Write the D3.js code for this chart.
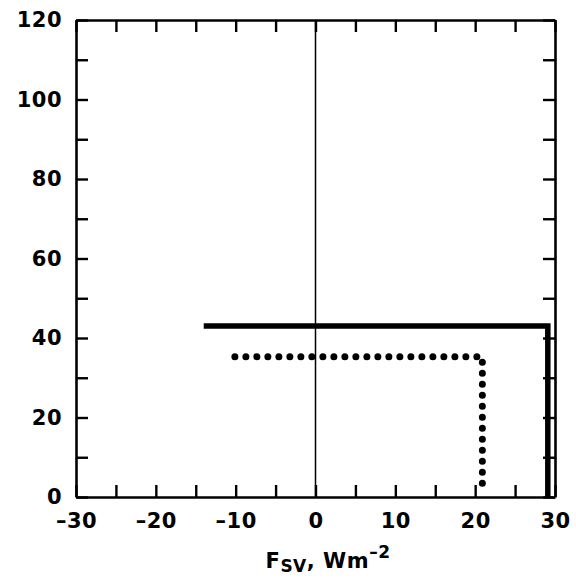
<!DOCTYPE html>
<html>
<head>
<meta charset="utf-8">
<script src="https://cdn.jsdelivr.net/npm/d3@7"></script>
<style>
  html, body { margin: 0; padding: 0; background: #fff; }
  svg text { font-family: "DejaVu Sans", "Liberation Sans", Arial, sans-serif; font-weight: bold; fill: #000; }
</style>
</head>
<body>
<svg id="chart" width="576" height="588"></svg>
<script>
// Axis settings
const xDomain = [-30, 30];
const yDomain = [0, 120];
const xMinorTicks = [-30, -25, -20, -15, -10, -5, 0, 5, 10, 15, 20, 25, 30];
const xLabelTicks = [-30, -20, -10, 0, 10, 20, 30];
const yMinorTicks = [0, 10, 20, 30, 40, 50, 60, 70, 80, 90, 100, 110, 120];
const yLabelTicks = [0, 20, 40, 60, 80, 100, 120];

// Solid profile
const solidX = [-14, 29.1, 29.1];
const solidY = [43, 43, 0];

// Dotted profile
const dottedX = [-10.1, 20.9, 20.9];
const dottedY = [35.3, 35.3, 2.8];

const svg = d3.select("#chart");
const plotLeft = 76, plotRight = 555, plotTop = 20, plotBottom = 497;

const x = d3.scaleLinear().domain(xDomain).range([plotLeft, plotRight]);
const y = d3.scaleLinear().domain(yDomain).range([plotBottom, plotTop]);

const tickLen = 12;
const fmt = d => (d < 0 ? "\u2013" + Math.abs(d) : String(d));

function styleAxis(g) {
  g.select(".domain").attr("stroke", "#000").attr("stroke-width", 2.6);
  g.selectAll(".tick line").attr("stroke", "#000").attr("stroke-width", 2.4);
}

// Bottom axis with labels
svg.append("g")
  .attr("transform", `translate(0,${plotBottom})`)
  .call(d3.axisBottom(x).tickValues(xMinorTicks).tickSizeInner(-tickLen).tickSizeOuter(0)
    .tickPadding(tickLen + 4)
    .tickFormat(d => xLabelTicks.includes(d) ? fmt(d) : ""))
  .call(styleAxis)
  .call(g => g.selectAll(".tick text").attr("font-size", 21).attr("letter-spacing", 0.5));

// Top axis
svg.append("g")
  .attr("transform", `translate(0,${plotTop})`)
  .call(d3.axisTop(x).tickValues(xMinorTicks).tickSizeInner(-tickLen).tickSizeOuter(0).tickFormat(""))
  .call(styleAxis);

// Left axis with labels
svg.append("g")
  .attr("transform", `translate(${plotLeft},0)`)
  .call(d3.axisLeft(y).tickValues(yMinorTicks).tickSizeInner(-tickLen).tickSizeOuter(0)
    .tickPadding(tickLen + 2)
    .tickFormat(d => yLabelTicks.includes(d) ? String(d) : ""))
  .call(styleAxis)
  .call(g => g.selectAll(".tick text").attr("font-size", 21).attr("letter-spacing", 0.5));

// Right axis
svg.append("g")
  .attr("transform", `translate(${plotRight},0)`)
  .call(d3.axisRight(y).tickValues(yMinorTicks).tickSizeInner(-tickLen).tickSizeOuter(0).tickFormat(""))
  .call(styleAxis);

// Zero line
svg.append("line")
  .attr("x1", x(0)).attr("x2", x(0))
  .attr("y1", y(yDomain[0])).attr("y2", y(yDomain[1]))
  .attr("stroke", "#000").attr("stroke-width", 1.5);

const line = d3.line().x(d => x(d[0])).y(d => y(d[1]));

// Solid profile
svg.append("path")
  .datum(d3.zip(solidX, solidY))
  .attr("d", line)
  .attr("fill", "none")
  .attr("stroke", "#000")
  .attr("stroke-width", 5.5)
  .attr("stroke-linejoin", "miter");

// Dotted profile
svg.append("path")
  .datum(d3.zip(dottedX, dottedY))
  .attr("d", line)
  .attr("fill", "none")
  .attr("stroke", "#000")
  .attr("stroke-width", 7)
  .attr("stroke-linecap", "round")
  .attr("stroke-dasharray", "0 11");

// X axis title: F_SV, Wm^-2
const title = svg.append("text")
  .attr("x", 328)
  .attr("y", 568)
  .attr("text-anchor", "middle")
  .attr("font-size", 21)
  .attr("letter-spacing", 0.5);
title.append("tspan").text("F");
title.append("tspan").attr("font-size", 17).attr("dy", 4).text("SV");
title.append("tspan").attr("dy", -4).text(", Wm");
title.append("tspan").attr("font-size", 17).attr("dy", -10).text("\u20132");
</script>
</body>
</html>
